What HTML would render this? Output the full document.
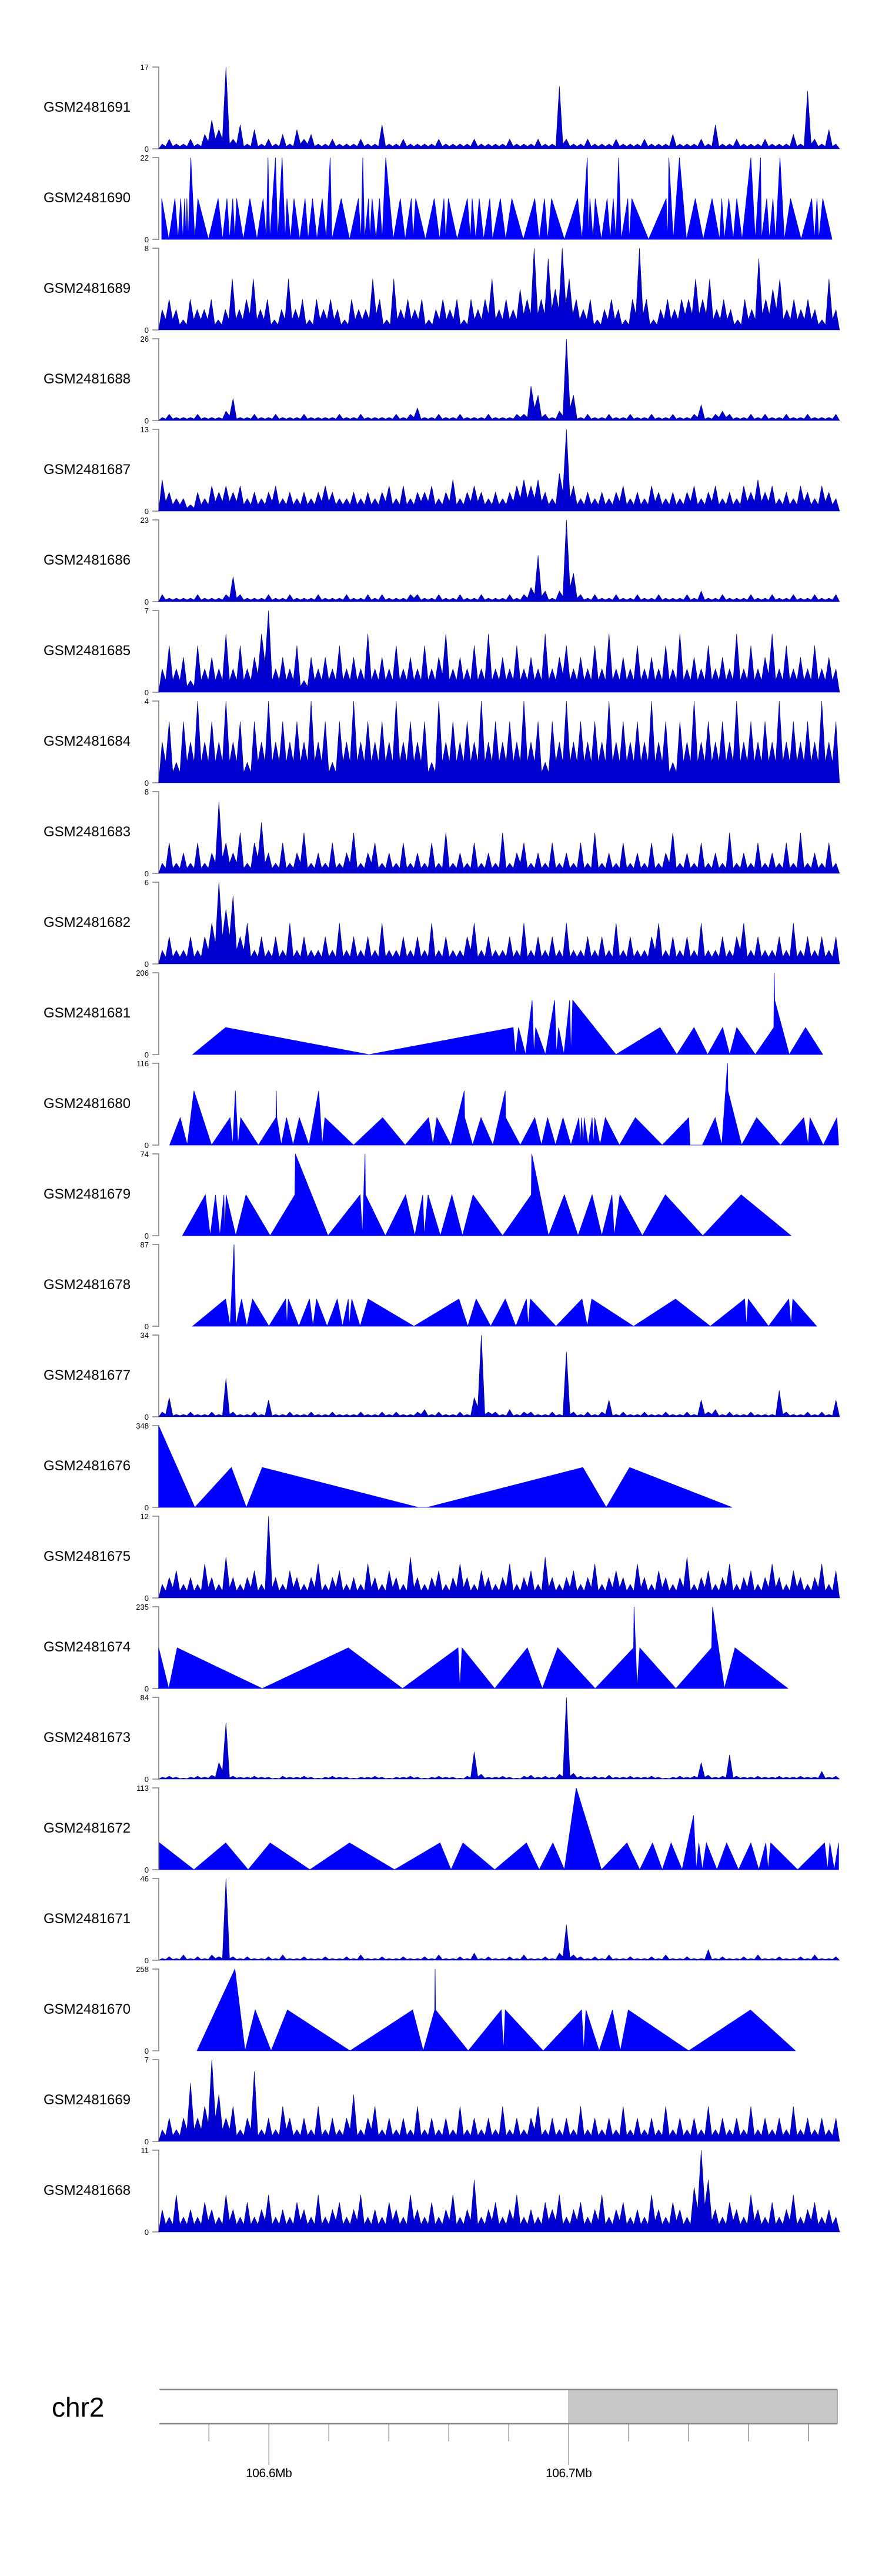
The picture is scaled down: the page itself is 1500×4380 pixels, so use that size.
<!DOCTYPE html>
<html><head><meta charset="utf-8"><title>ChIP-seq coverage tracks chr2</title>
<style>html,body{margin:0;padding:0;background:#fff}svg{display:block}</style></head>
<body>
<svg id="chart" width="1500" height="4380" viewBox="0 0 1500 4380" xmlns="http://www.w3.org/2000/svg" font-family="Liberation Sans, Arial, sans-serif"></svg>
<script>
// positions are genomic bins (1 bin ≈ 147 bp; bin 263 = 106.6 Mb, bin 943 = 106.7 Mb)
const trackNames = ["GSM2481691","GSM2481690","GSM2481689","GSM2481688","GSM2481687","GSM2481686","GSM2481685","GSM2481684","GSM2481683","GSM2481682","GSM2481681","GSM2481680","GSM2481679","GSM2481678","GSM2481677","GSM2481676","GSM2481675","GSM2481674","GSM2481673","GSM2481672","GSM2481671","GSM2481670","GSM2481669","GSM2481668"];
const trackMax = [17,22,8,26,13,23,7,4,8,6,206,116,74,87,34,348,12,235,84,113,46,258,7,11];

// dense (binned) coverage tracks
const v1691 = [1,2,1,1,2,1,3,6,4,17,2,5,1,4,1,2,1,3,1,4,2,3,1,1,2,1,1,1,2,1,1,5,1,1,2,1,1,1,1,2,1,1,1,1,2,1,1,1,1,2,1,1,1,2,1,1,13,2,1,1,2,1,1,1,2,1,1,1,2,1,1,1,3,1,1,1,2,1,5,1,1,2,1,1,1,2,1,1,1,3,1,12,2,1,4,1];
const v1689 = [2,3,2,1,3,2,2,3,1,2,5,2,3,5,2,3,1,2,5,2,3,1,3,2,3,2,1,3,2,2,5,3,1,5,2,3,2,3,1,2,3,2,3,1,3,2,3,5,2,3,2,4,3,8,3,7,4,8,5,3,2,3,1,2,3,2,1,3,8,3,1,2,3,2,3,3,5,3,5,2,3,2,1,3,2,7,3,4,5,2,3,2,3,2,1,5,2];
const v1688 = [1,2,1,1,1,2,1,1,1,3,7,1,1,2,1,1,2,1,1,1,2,1,1,1,1,2,1,1,2,1,1,1,1,2,1,2,4,1,1,2,1,1,2,1,1,1,2,1,1,1,2,2,11,8,2,1,3,26,8,1,2,1,1,2,1,1,2,1,1,2,1,1,2,1,1,2,5,1,2,3,2,1,1,2,1,2,1,1,2,1,1,2,1,1,1,2];
const v1687 = [5,3,2,2,1,3,2,4,3,4,3,4,2,3,2,3,4,2,3,2,3,2,3,4,3,2,2,3,2,3,2,3,4,2,4,2,3,3,4,2,3,5,2,3,4,3,2,3,2,3,4,5,4,5,3,2,6,13,4,2,3,2,3,2,3,4,2,3,2,4,3,2,3,2,3,4,2,3,4,2,3,2,4,3,5,3,4,2,3,2,4,3,2,4,3,2];
const v1686 = [2,1,1,1,1,2,1,1,1,2,7,2,1,1,1,2,1,1,2,1,1,1,2,1,1,1,2,1,1,2,1,2,1,1,1,2,2,1,1,2,1,1,2,1,1,2,1,1,1,2,1,2,4,13,3,1,3,23,8,2,1,2,1,1,2,1,1,2,1,1,2,1,1,1,2,1,3,1,1,2,1,1,1,2,1,1,2,1,1,2,1,1,2,1,1,2];
const v1685 = [2,4,2,3,1,4,2,3,2,5,2,4,2,3,5,7,2,3,2,4,1,3,2,3,2,4,2,3,2,5,2,3,2,4,2,3,2,4,2,3,5,2,3,2,4,2,5,2,3,2,4,2,3,2,5,2,3,4,2,3,2,4,2,5,2,3,2,4,2,3,2,4,2,5,2,3,2,4,2,3,2,5,2,4,2,3,5,2,4,2,3,2,4,2,3,2];
const v1684 = [2,3,1,3,2,4,2,3,2,4,2,3,1,3,2,4,2,3,2,3,2,4,2,3,1,3,2,4,2,3,2,3,2,4,2,3,2,3,1,4,2,3,2,3,2,4,2,3,2,3,2,4,2,3,1,3,2,4,2,3,2,3,2,4,2,3,2,3,2,4,2,3,1,3,2,4,2,3,2,3,2,4,2,3,2,3,2,4,2,3,2,3,2,4,2,3];
const v1683 = [1,3,1,2,1,3,1,2,7,3,2,4,1,3,5,2,1,3,1,2,4,1,2,1,3,1,2,4,1,2,3,1,2,1,3,1,2,1,3,1,4,1,2,1,3,1,2,1,4,1,2,3,1,2,1,3,1,2,1,3,1,4,1,2,1,3,1,2,1,3,1,2,4,1,2,1,3,1,2,1,4,1,2,1,3,1,2,1,3,1,4,1,2,1,3,1];
const v1682 = [1,2,1,1,2,1,2,3,6,4,5,2,3,1,2,1,2,1,3,1,2,1,1,2,1,3,1,2,1,2,1,3,1,1,2,1,2,1,3,1,2,1,1,2,3,1,2,1,1,2,1,3,1,2,1,2,1,3,1,1,2,1,2,1,3,1,2,1,1,2,3,1,2,1,2,1,3,1,1,2,1,2,3,1,2,1,1,2,1,3,1,2,1,2,1,2];
const v1677 = [2,8,1,1,2,1,1,2,1,16,2,1,1,2,1,7,1,1,2,1,1,2,1,1,2,1,1,1,2,1,1,2,1,2,1,1,2,3,1,2,1,1,2,1,8,34,2,2,1,3,1,2,2,1,1,2,1,27,2,1,2,1,2,7,1,2,1,1,2,1,1,2,1,1,2,1,7,2,3,1,2,1,1,2,1,1,1,11,2,1,1,2,1,2,1,7];
const v1675 = [2,3,4,2,3,2,5,3,2,6,3,2,3,4,2,12,3,2,4,3,2,3,5,2,3,4,2,3,2,5,3,2,4,3,2,6,3,2,3,4,2,3,5,3,2,4,3,2,3,5,2,3,4,2,6,3,2,3,4,2,3,5,2,3,4,3,2,5,3,2,4,3,2,3,6,2,3,4,2,3,5,2,3,4,2,3,5,3,2,4,3,2,3,5,2,4];
const v1673 = [2,3,2,1,2,3,2,4,17,58,3,2,2,3,2,2,1,3,2,2,3,2,1,2,3,2,2,1,2,2,3,2,1,2,2,3,2,1,2,3,2,2,1,3,28,5,2,2,3,2,1,3,4,2,3,2,5,84,6,3,2,3,2,4,2,2,3,2,2,3,2,1,2,3,2,3,17,4,2,3,25,3,2,2,3,2,2,3,2,2,3,2,2,8,2,3];
const v1671 = [1,2,1,3,1,2,1,3,2,46,2,1,2,1,1,2,1,3,1,1,2,1,1,2,1,1,2,1,3,1,1,2,1,1,2,1,1,2,1,3,1,1,2,1,4,1,2,1,1,2,1,3,1,1,2,1,4,20,3,2,1,2,1,3,1,1,2,1,1,2,1,3,1,1,2,1,1,6,1,2,1,1,2,1,3,1,1,2,1,1,2,1,3,1,1,2];
const v1669 = [1,2,1,2,5,2,3,7,4,2,3,1,2,6,1,2,1,3,2,1,2,1,3,1,2,1,2,4,1,2,3,1,2,1,2,1,3,1,2,1,2,1,3,1,2,1,2,1,3,1,2,1,2,3,1,2,1,2,1,3,1,2,1,2,1,3,1,2,1,2,1,3,1,2,1,2,1,3,1,2,1,2,1,3,1,2,1,2,1,3,1,2,1,2,1,2];
const v1668 = [3,2,5,2,3,2,4,3,2,5,3,2,4,2,3,5,2,3,2,4,3,2,5,2,3,4,2,3,5,2,3,2,4,3,2,5,3,2,4,2,3,5,2,3,7,2,3,4,2,3,5,2,3,2,4,3,5,2,3,4,2,3,5,2,3,4,2,3,2,5,3,2,4,3,2,6,11,7,3,2,4,3,2,5,3,2,4,2,3,5,2,3,4,2,3,2];

// sparse (vertex) coverage tracks: positions (bins) and values
const p1690 = [20,36,50,57,63,68,72,75,77,80,86,95,102,126,148,158,168,174,181,186,190,205,220,236,250,257,261,265,278,283,293,300,304,312,320,333,345,352,362,372,384,393,402,406,427,446,466,472,476,480,489,492,497,506,514,520,528,545,561,572,586,590,596,618,638,650,660,664,670,690,713,720,724,732,740,750,764,770,788,800,814,840,866,876,888,895,904,933,963,973,985,988,991,998,1003,1017,1030,1037,1044,1050,1056,1062,1077,1080,1086,1124,1164,1168,1170,1180,1194,1210,1230,1248,1268,1285,1290,1296,1306,1316,1324,1336,1356,1366,1378,1380,1392,1398,1406,1412,1422,1432,1446,1470,1494,1500,1506,1510,1519,1540];
const y1690 = [11,0,11,0,11,0,11,0,11,0,22,0,11,0,11,0,11,0,11,0,11,0,11,0,11,0,22,0,22,0,22,0,11,0,11,0,11,0,11,0,11,0,22,0,11,0,11,0,22,0,11,0,11,0,11,0,22,0,11,0,11,0,11,0,11,0,11,0,11,0,11,0,11,0,11,0,11,0,11,0,11,0,11,0,11,0,11,0,11,0,22,0,11,0,11,0,11,0,11,0,22,0,11,0,11,0,11,0,22,0,22,0,11,0,11,0,11,0,11,0,11,0,22,0,22,0,11,0,11,0,22,0,11,0,11,0,11,0,11,0];
const p1681 = [90,165,490,817,822,829,845,860,864,868,890,911,915,920,932,945,948,952,1050,1150,1188,1227,1258,1292,1308,1324,1366,1408,1409,1410,1443,1480,1519];
const y1681 = [0,68,0,68,0,68,0,137,0,68,0,137,0,68,0,137,0,137,0,68,0,68,0,68,0,68,0,68,206,137,0,68,0];
const p1680 = [38,62,78,93,133,175,181,187,193,199,239,279,280,281,291,303,318,332,354,376,384,390,455,521,572,625,635,644,676,706,707,725,744,771,799,800,833,866,881,895,913,930,948,966,969,972,976,978,987,996,999,1002,1014,1026,1058,1094,1155,1215,1218,1246,1275,1290,1303,1304,1335,1369,1423,1476,1486,1490,1520,1551,1555];
const y1680 = [0,39,0,77,0,39,0,77,0,39,0,39,77,39,0,39,0,39,0,77,0,39,0,39,0,39,0,39,0,77,39,0,39,0,77,39,0,39,0,39,0,39,0,39,0,39,0,39,0,39,0,39,0,39,0,39,0,39,0,0,39,0,116,77,0,39,0,39,0,39,0,39,0];
const p1679 = [67,119,130,142,152,161,163,166,188,211,266,322,323,397,470,475,481,482,527,573,594,612,615,624,652,678,702,726,793,858,859,897,933,964,996,1018,1041,1046,1059,1110,1162,1247,1334,1447];
const y1679 = [0,37,0,37,0,37,0,37,0,37,0,37,74,0,37,0,74,37,0,37,0,37,0,37,0,37,0,37,0,37,74,0,37,0,37,0,37,0,37,0,37,0,37,0];
const p1678 = [90,165,175,184,188,201,213,226,263,301,304,307,331,355,363,371,395,418,430,443,445,451,470,488,592,694,714,733,766,799,823,847,851,856,914,973,985,995,1090,1185,1264,1342,1346,1350,1396,1442,1447,1451,1505];
const y1678 = [0,29,0,87,0,29,0,29,0,29,0,29,0,29,0,29,0,29,0,29,0,29,0,29,0,29,0,29,0,29,0,29,0,29,0,29,0,29,0,29,0,29,0,29,0,29,0,29,0];
const p1676 = [13,95,178,212,248,602,622,975,1028,1081,1313];
const y1676 = [348,0,170,0,170,0,0,170,0,170,0];
const p1674 = [13,36,55,248,443,566,692,696,701,775,849,883,918,1003,1090,1091,1098,1104,1186,1267,1269,1296,1320,1440];
const y1674 = [117,0,117,0,117,0,117,0,117,0,117,0,117,0,117,235,0,117,0,117,235,0,117,0];
const p1672 = [15,93,165,216,266,356,446,548,651,676,703,775,847,876,907,933,960,1017,1075,1104,1133,1155,1175,1200,1226,1232,1238,1246,1255,1279,1301,1328,1356,1374,1390,1395,1401,1462,1523,1530,1535,1545,1555];
const y1672 = [37,0,37,0,37,0,37,0,37,0,37,0,37,0,37,0,113,0,37,0,37,0,37,0,75,0,37,0,37,0,37,0,37,0,37,0,37,0,37,0,37,0,37];
const p1670 = [100,186,209,232,268,305,447,589,613,639,640,641,715,790,795,799,885,972,977,982,1012,1042,1060,1078,1215,1355,1457];
const y1670 = [0,258,0,129,0,129,0,129,0,129,258,129,0,129,0,129,0,129,0,129,0,129,0,129,0,129,0];

const denseSeries = {"GSM2481691":v1691,"GSM2481689":v1689,"GSM2481688":v1688,"GSM2481687":v1687,"GSM2481686":v1686,"GSM2481685":v1685,"GSM2481684":v1684,"GSM2481683":v1683,"GSM2481682":v1682,"GSM2481677":v1677,"GSM2481675":v1675,"GSM2481673":v1673,"GSM2481671":v1671,"GSM2481669":v1669,"GSM2481668":v1668};
const sparseSeries = {"GSM2481690":[p1690,y1690],"GSM2481681":[p1681,y1681],"GSM2481680":[p1680,y1680],"GSM2481679":[p1679,y1679],"GSM2481678":[p1678,y1678],"GSM2481676":[p1676,y1676],"GSM2481674":[p1674,y1674],"GSM2481672":[p1672,y1672],"GSM2481670":[p1670,y1670]};

const axisTickMb = [106.58,106.6,106.62,106.64,106.66,106.68,106.7,106.72,106.74,106.76,106.78];
const axisTickLabels = ["","106.6Mb","","","","","106.7Mb","","","",""];
const ideoStartMb = 106.5635, ideoEndMb = 106.7896, ideoBandStartMb = 106.7;

const NS = "http://www.w3.org/2000/svg";
const svg = document.getElementById('chart');
function mk(tag, attrs, parent){const e=document.createElementNS(NS,tag);for(const k in attrs)e.setAttribute(k,attrs[k]);(parent||svg).appendChild(e);return e;}
const binMin = 13, binMax = 1557;
function xScale(bin){return 260 + bin*0.75;}
function mbToBin(mb){return 263 + (mb-106.6)*6800;}
const TOP0 = 114, PITCH = 154, H = 139;

trackNames.forEach((name, i) => {
  const top = TOP0 + PITCH*i, base = top + H, max = trackMax[i];
  const yScale = v => base - v/max*H;
  const g = mk('g', {});
  
  
  const lab = mk('text', {x:74, y:top+76, 'font-size':24, fill:'#000'}, g);
  lab.textContent = name;
  
  
  const ax = mk('path', {d:`M259,${top}H270V${base}H259`, fill:'none', stroke:'#7f7f7f', 'stroke-width':1.6}, g);
  
  
  [[max, top],[0, base]].forEach(([v, y]) => {
    const t = mk('text', {x:253, y:y+5, 'font-size':13, 'text-anchor':'end', fill:'#000'}, g);
    t.textContent = v;
    
    
  });
  let pts = [];
  let fill, stroke, sw;
  if (denseSeries[name]) {
    const vals = denseSeries[name];
    const step = (binMax - binMin)/vals.length;
    pts.push([xScale(binMin), base]);
    vals.forEach((v, j) => {
      pts.push([xScale(binMin + (j+0.5)*step), yScale(v)]);
      if (j < vals.length-1) {
        const dip = Math.min(v, vals[j+1]) * 0.5;
        pts.push([xScale(binMin + (j+1)*step), yScale(dip)]);
      }
    });
    pts.push([xScale(binMax), base]);
    fill = '#0000d0'; stroke = '#000080'; sw = 0.6;
  } else {
    const [ps, vs] = sparseSeries[name];
    pts.push([xScale(ps[0]), base]);
    ps.forEach((p, j) => pts.push([xScale(p), yScale(vs[j])]));
    pts.push([xScale(ps[ps.length-1]), base]);
    fill = '#0000ff'; stroke = '#0000ee'; sw = 0.8;
  }
  const area = mk('polygon', {points: pts.map(p=>p[0].toFixed(1)+','+p[1].toFixed(1)).join(' '), fill:fill, stroke:stroke, 'stroke-width':sw}, g);
  
  
});

// ideogram
const ig = mk('g', {});


const x0 = xScale(mbToBin(ideoStartMb)), x1 = xScale(mbToBin(ideoEndMb)), xb = xScale(mbToBin(ideoBandStartMb));
const chrLab = mk('text', {x:88, y:4109, 'font-size':46, fill:'#000'}, ig);
chrLab.textContent = 'chr2';


const band = mk('rect', {x:xb, y:4063, width:x1-xb, height:58, fill:'#c8c8c8', stroke:'#888', 'stroke-width':1}, ig);


const borders = mk('path', {d:`M${x0},4063H${x1}M${x0},4121H${x1}`, stroke:'#888', 'stroke-width':2.5, fill:'none'}, ig);


axisTickMb.forEach((mb, k) => {
  const x = xScale(mbToBin(mb));
  const long = axisTickLabels[k] !== '';
  const tk = mk('line', {x1:x, x2:x, y1:4121, y2: long ? 4191 : 4151, stroke:'#555', 'stroke-width':1}, ig);
  
  
  if (long) {
    const t = mk('text', {x:x, y:4212, 'font-size':21, 'text-anchor':'middle', fill:'#000', 'letter-spacing':'-0.5'}, ig);
    t.textContent = axisTickLabels[k];
    
    
  }
});
</script>
</body></html>
